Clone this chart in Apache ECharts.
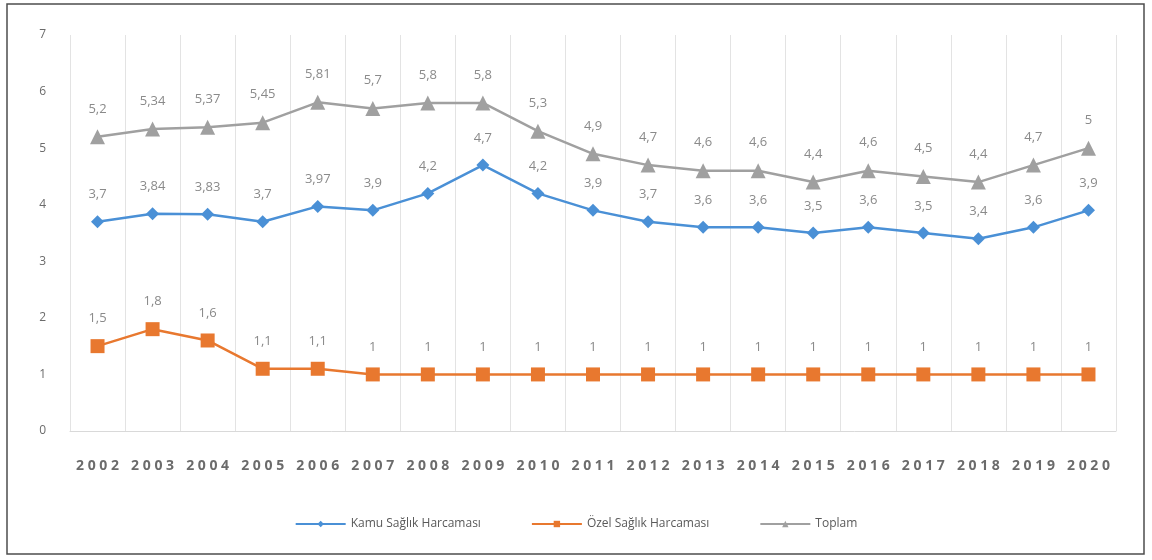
<!DOCTYPE html>
<html>
<head>
<meta charset="utf-8">
<script src="https://cdn.jsdelivr.net/npm/echarts@6/dist/echarts.min.js"></script>
<style>
  html, body { margin: 0; padding: 0; background: #fff; }
  #chart { width: 1152px; height: 560px; }
</style>
</head>
<body>
<div id="chart"></div>
<script>
var years = ['2002', '2003', '2004', '2005', '2006', '2007', '2008', '2009', '2010', '2011',
  '2012', '2013', '2014', '2015', '2016', '2017', '2018', '2019', '2020'];
var kamu = [3.7, 3.84, 3.83, 3.7, 3.97, 3.9, 4.2, 4.7, 4.2, 3.9, 3.7, 3.6, 3.6, 3.5, 3.6, 3.5, 3.4, 3.6, 3.9];
var ozel = [1.5, 1.8, 1.6, 1.1, 1.1, 1, 1, 1, 1, 1, 1, 1, 1, 1, 1, 1, 1, 1, 1];
var toplam = [5.2, 5.34, 5.37, 5.45, 5.81, 5.7, 5.8, 5.8, 5.3, 4.9, 4.7, 4.6, 4.6, 4.4, 4.6, 4.5, 4.4, 4.7, 5];
var seriesNames = ['Kamu Sağlık Harcaması', 'Özel Sağlık Harcaması', 'Toplam'];

var myChart = echarts.init(document.getElementById('chart'));

// etiketler virgüllü
function lbl(p) {
  return String(p.value).replace('.', ',');
}
var labelStyle = {
  show: true,
  position: 'top',
  distance: 14,
  color: '#8a8a8a',
  fontSize: 13,
  fontFamily: 'Open Sans',
  formatter: lbl
};

var option = {
  backgroundColor: '#ffffff',
  animation: false,
  graphic: [{
    type: 'rect',
    shape: { x: 7, y: 4, width: 1137, height: 550 },
    style: { fill: 'none', stroke: '#4d4d4d', lineWidth: 1.5 },
    silent: true
  }],
  grid: { left: 70, right: 36, top: 35, bottom: 129 },
  legend: {
    data: seriesNames,
    bottom: 25,
    left: 'center',
    itemGap: 50,
    itemWidth: 50,
    itemHeight: 8,
    textStyle: { color: '#595959', fontSize: 12, fontFamily: 'Open Sans' }
  },
  xAxis: {
    type: 'category',
    data: years,
    boundaryGap: true,
    axisLine: { lineStyle: { color: '#d9d9d9' } },
    axisTick: { show: false },
    splitLine: { show: true, lineStyle: { color: '#e3e3e3' } },
    axisLabel: {
      color: '#6b6b6b',
      fontSize: 14,
      fontWeight: 'bold',
      fontFamily: 'Open Sans',
      margin: 28,
      interval: 0,
      formatter: function (v) { return v.split('').join(' '); }
    }
  },
  yAxis: {
    type: 'value',
    min: 0,
    max: 7,
    interval: 1,
    axisLine: { show: false },
    axisTick: { show: false },
    splitLine: { show: false },
    axisLabel: { color: '#6b6b6b', fontSize: 12, fontFamily: 'Open Sans', margin: 24 }
  },
  series: [{
    name: seriesNames[0],
    type: 'line',
    data: kamu,
    color: '#4a90d6',
    symbol: 'diamond',
    symbolSize: 13,
    lineStyle: { width: 2.5 },
    label: labelStyle
  }, {
    name: seriesNames[1],
    type: 'line',
    data: ozel,
    color: '#e8782f',
    symbol: 'rect',
    symbolSize: 14,
    lineStyle: { width: 2.5 },
    label: labelStyle
  }, {
    name: seriesNames[2],
    type: 'line',
    data: toplam,
    color: '#a0a0a0',
    symbol: 'triangle',
    symbolSize: 15,
    lineStyle: { width: 2.5 },
    label: labelStyle
  }]
};
myChart.setOption(option);
</script>
</body>
</html>
